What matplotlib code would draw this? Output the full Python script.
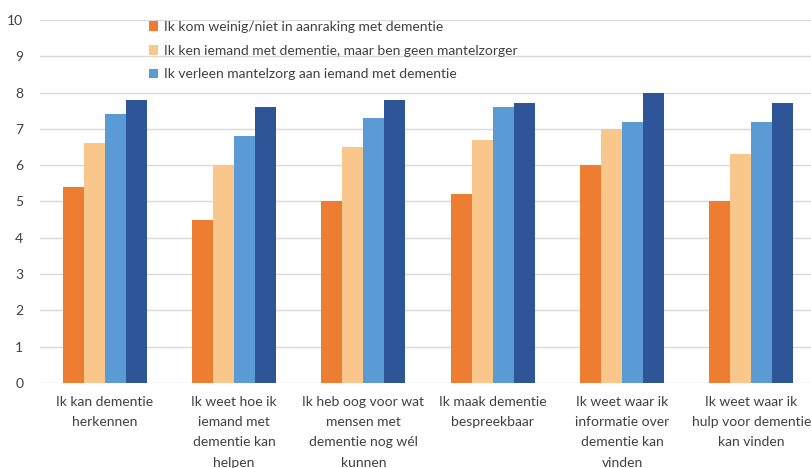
import matplotlib.pyplot as plt
import numpy as np

categories = [
    "Ik kan dementie\nherkennen",
    "Ik weet hoe ik\niemand met\ndementie kan\nhelpen",
    "Ik heb oog voor wat\nmensen met\ndementie nog wél\nkunnen",
    "Ik maak dementie\nbespreekbaar",
    "Ik weet waar ik\ninformatie over\ndementie kan\nvinden",
    "Ik weet waar ik\nhulp voor dementie\nkan vinden",
]
series_names = [
    "Ik kom weinig/niet in aanraking met dementie",
    "Ik ken iemand met dementie, maar ben geen mantelzorger",
    "Ik verleen mantelzorg aan iemand met dementie",
    "_nolegend_",
]
weinig = [5.4, 4.5, 5.0, 5.2, 6.0, 5.0]
kennis = [6.6, 6.0, 6.5, 6.7, 7.0, 6.3]
mantelzorg = [7.4, 6.8, 7.3, 7.6, 7.2, 7.2]
totaal = [7.8, 7.6, 7.8, 7.7, 8.0, 7.7]

COLORS = ["#ED7D31", "#F9C68C", "#5B9BD5", "#2E5597"]
FONT = "Lato"
TXT = "#404040"

fig = plt.figure(figsize=(8.11, 4.68), dpi=100)
ax = fig.add_axes([40 / 811, 85 / 468, 776 / 811, 363 / 468])

x = np.arange(len(categories))
w = 0.163
for i, (vals, name) in enumerate(zip([weinig, kennis, mantelzorg, totaal], series_names)):
    ax.bar(x + (i - 1.5) * w, vals, width=w, color=COLORS[i], label=name, zorder=3)

ax.set_xlim(-0.5, len(categories) - 0.5)
ax.set_ylim(0, 10)
ax.set_yticks(range(0, 11))
ax.grid(axis="y", color="#D9D9D9", linewidth=1, zorder=0)
for s in ax.spines.values():
    s.set_visible(False)
ax.tick_params(axis="both", length=0, colors=TXT)
ax.tick_params(axis="y", pad=12)
ax.tick_params(axis="x", pad=9)
ax.set_xticks(x)
ax.set_xticklabels(categories, fontsize=10, family=FONT, color=TXT, linespacing=1.85)
for lbl in ax.get_yticklabels():
    lbl.set_family(FONT)
    lbl.set_fontsize(10)

ax.legend(loc="upper left", bbox_to_anchor=(0.124, 1.032), frameon=False,
          prop={"family": FONT, "size": 10}, labelcolor=TXT,
          handlelength=0.7, handleheight=0.7, handletextpad=0.4, labelspacing=0.85)

fig.savefig("out.png", dpi=100, facecolor="white")
